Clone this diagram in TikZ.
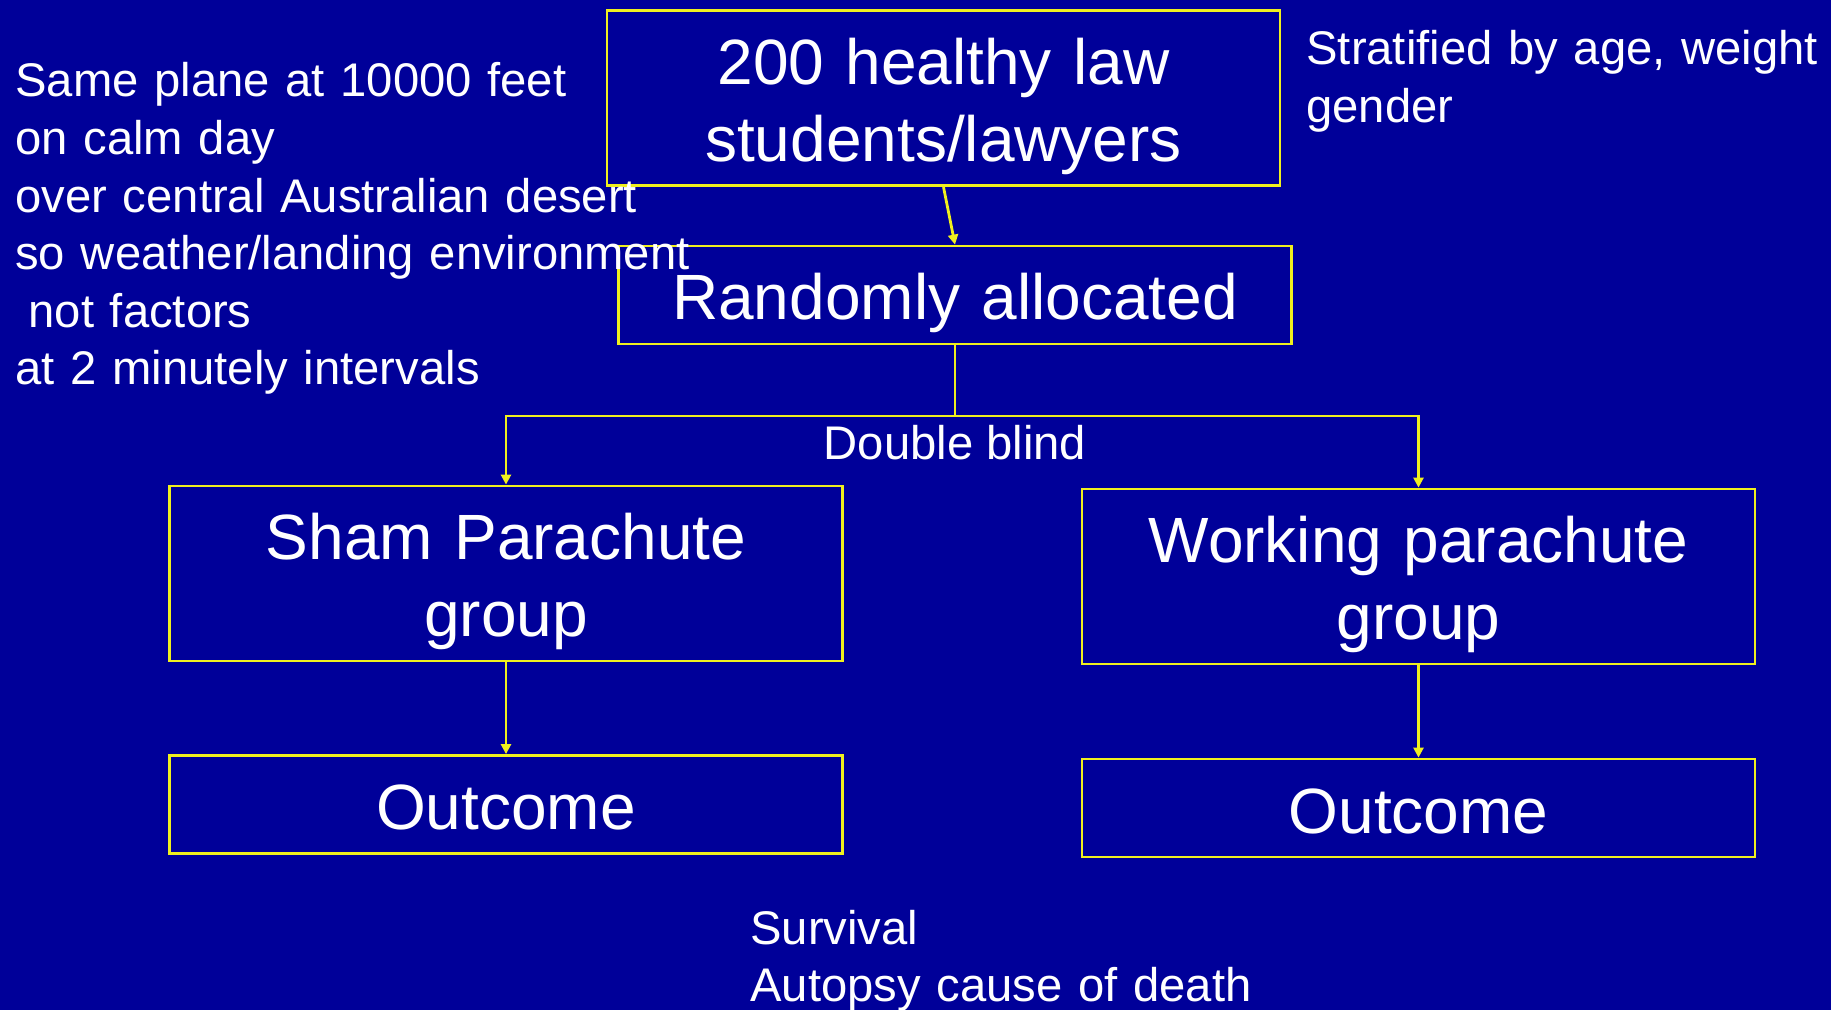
\documentclass[tikz,border=0pt]{standalone}
\usepackage{fontspec}
\setmainfont{Liberation Sans}
\usepackage{xcolor}
\usetikzlibrary{arrows.meta}
\definecolor{slideblue}{RGB}{0,0,153}
\definecolor{lineyellow}{RGB}{240,240,30}

\begin{document}
\begin{tikzpicture}[x=0.5pt,y=-0.5pt,
    stage/.style={draw=lineyellow, line width=1.4pt, inner sep=0pt, text=white,
      font=\fontsize{32}{38.4}\selectfont, align=center, text width=336.5pt,
      text height=32pt, text depth=7pt},
    twoline/.style={minimum height=87.5pt, text depth=46pt},
    oneline/.style={minimum height=49pt},
    note/.style={text=white, inner sep=0pt, font=\fontsize{23.6}{28.8}\selectfont},
    link/.style={draw=lineyellow, line width=1.4pt, -{Triangle[length=5pt,width=5pt]}}]
      \useasboundingbox (0,0) rectangle (1831,1010);
      \fill[slideblue] (0,0) rectangle (1831,1010);

      \begin{scope}
        \node[stage,twoline] (cohort) at (943.5,98.25) {200 healthy law\\students/lawyers};
        \node[stage,oneline] (rand) at (955,295) {Randomly allocated};
        \node[stage,twoline] (sham) at (506,573.5) {Sham Parachute\\group};
        \node[stage,twoline] (work) at (1418.5,576.5) {Working parachute\\group};
        \node[stage,oneline] (shamOut) at (506,804.5) {Outcome};
        \node[stage,oneline] (workOut) at (1418.5,808) {Outcome};

        \coordinate (fork) at (955,416);
        \draw[link] (cohort.south) -- (rand.north);
        \draw[link] (rand.south) -- (fork) -| (sham.north);
        \draw[link] (fork) -| (work.north);
        \foreach \g/\o in {sham/shamOut, work/workOut}{
          \draw[link] (\g.south) -- (\o.north);
        }
      \end{scope}

      \begin{scope}[note]
        \node[note, anchor=base west, text width=380pt, align=left] (flight) at (15,97)
          {Same plane at 10000 feet\\on calm day\\over central Australian desert\\so weather/landing environment\\\hspace*{0.28em}not factors\\at 2 minutely intervals};
        \node[note, anchor=base west, text width=262pt, align=left] (strata) at (1306,65)
          {Stratified by age, weight\\gender};
        \node[note, anchor=base] (blind) at (955,459) {Double blind};
        \node[note, anchor=base west, text width=300pt, align=left] (measures) at (750,944)
          {Survival\\Autopsy cause of death};
      \end{scope}
\end{tikzpicture}
\end{document}
